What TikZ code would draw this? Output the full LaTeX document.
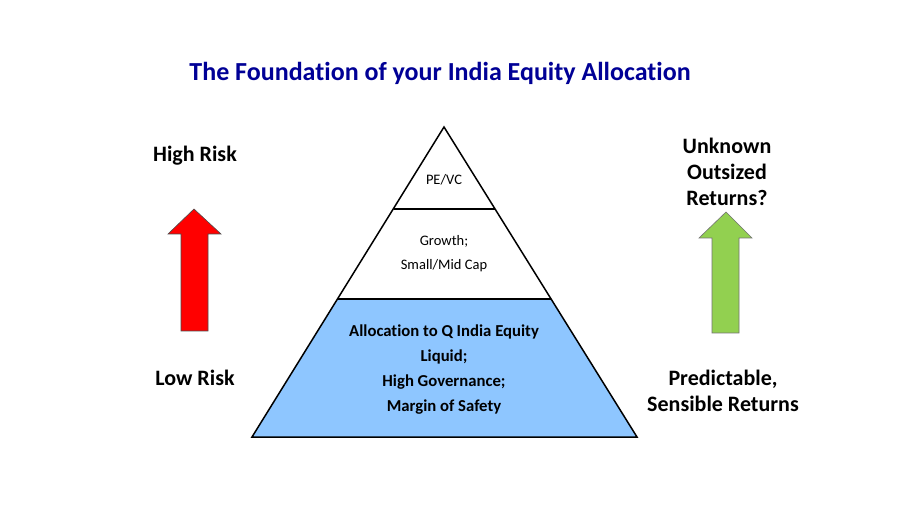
\documentclass[tikz,border=0pt]{standalone}
\usepackage{fontspec}
\setmainfont{Carlito}[Ligatures={NoCommon,NoRequired,NoContextual}]
\definecolor{titleblue}{RGB}{0,0,150}
\definecolor{baseblue}{RGB}{142,198,255}
\definecolor{riskred}{RGB}{255,0,0}
\definecolor{retgreen}{RGB}{146,208,80}
\begin{document}
\begin{tikzpicture}[x=1pt,y=-1pt,
    sidetext/.style={font=\fontsize{22}{26.3}\selectfont\bfseries,align=center,anchor=base},
    tiertext/.style={font=\fontsize{14.5}{24}\selectfont,align=center,anchor=base},
    basetext/.style={font=\fontsize{16.7}{25.3}\selectfont\bfseries,align=center,anchor=base}]
        \useasboundingbox[fill=white] (0,0) rectangle (898,505);
        %% Title
        \node[font=\fontsize{26}{30}\selectfont\bfseries,text=titleblue,anchor=base] (title) at (440,81) {The Foundation of your India Equity Allocation};
        %% Pyramid
        \coordinate (apex) at (444,127);
        \coordinate (bl) at (252,437);
        \coordinate (br) at (637,437);
        \coordinate (ml) at (338,299);
        \coordinate (mr) at (551,299);
        \coordinate (tl) at (394,209);
        \coordinate (tr) at (495,209);
        \fill[baseblue] (ml) -- (mr) -- (br) -- (bl) -- cycle;
        \draw[line width=1.5pt,line join=miter] (apex) -- (br) -- (bl) -- cycle;
        \draw[line width=1.5pt] (ml) -- (mr);
        \draw[line width=1.5pt] (tl) -- (tr);
        \node[tiertext] (tier-top) at (444,185) {PE/VC};
        \node[tiertext] (tier-mid) at (444,270) {Growth;\\Small/Mid Cap};
        \node[basetext] (tier-base) at (444,412) {Allocation to Q India Equity\\Liquid;\\High Governance;\\Margin of Safety};
        %% Risk arrow
        \node[sidetext] (risk-high) at (195,162) {High Risk};
        \node[sidetext] (risk-low) at (195,386) {Low Risk};
        \draw[fill=riskred,draw=black!70,line width=0.6pt] (181,331) -- (181,234) -- (168,234) -- (194,209)
            -- (221,234) -- (208,234) -- (208,331) -- cycle;
        %% Return arrow
        \node[sidetext] (ret-high) at (727,206) {Unknown\\Outsized\\Returns?};
        \node[sidetext] (ret-low) at (723,412) {Predictable,\\Sensible Returns};
        \draw[fill=retgreen,draw=black!55,line width=0.6pt] (712,333) -- (712,238) -- (699,238) -- (726,212)
            -- (752,238) -- (739,238) -- (739,333) -- cycle;
\end{tikzpicture}
\end{document}
